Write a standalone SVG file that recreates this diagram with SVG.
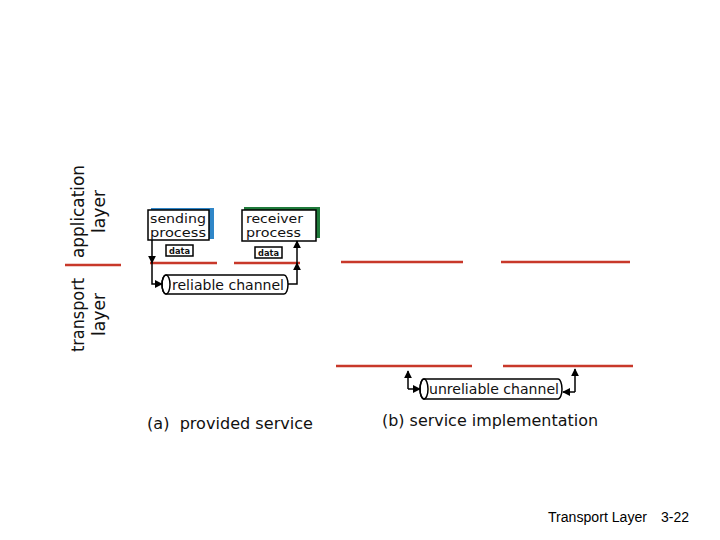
<svg xmlns="http://www.w3.org/2000/svg" width="720" height="540" viewBox="0 0 720 540">
<defs>
<style>
.t{font-family:"DejaVu Sans","Liberation Sans",sans-serif;fill:#111;}
.red{stroke:#c8382a;stroke-width:2.5;fill:none;}
.ln{stroke:#000;stroke-width:1.5;fill:none;}
.box{fill:#fff;stroke:#000;stroke-width:1.5;}
</style>
<marker id="ah" viewBox="0 0 10 10" refX="9" refY="5" markerWidth="8" markerHeight="8" markerUnits="userSpaceOnUse" orient="auto"><path d="M0,0 L10,5 L0,10 z" fill="#000"/></marker>
</defs>
<rect width="720" height="540" fill="#fff"/>
<g id="layer-labels">
<text class="t" font-size="18" transform="translate(84,258) rotate(-90)" textLength="93" lengthAdjust="spacingAndGlyphs">application</text>
<text class="t" font-size="18" transform="translate(105,233) rotate(-90)" textLength="43" lengthAdjust="spacingAndGlyphs">layer</text>
<text class="t" font-size="18" transform="translate(84,352) rotate(-90)" textLength="74" lengthAdjust="spacingAndGlyphs">transport</text>
<text class="t" font-size="18" transform="translate(105,336) rotate(-90)" textLength="43" lengthAdjust="spacingAndGlyphs">layer</text>
<line class="red" x1="65" y1="265" x2="121" y2="265"/>
</g>
<g id="red-lines">
<line class="red" x1="150" y1="263" x2="217" y2="263"/>
<line class="red" x1="234" y1="263" x2="300" y2="263"/>
<line class="red" x1="341" y1="262" x2="463" y2="262"/>
<line class="red" x1="501" y1="262" x2="630" y2="262"/>
<line class="red" x1="336" y1="366" x2="472" y2="366"/>
<line class="red" x1="503" y1="366" x2="633" y2="366"/>
</g>
<g id="sending-process">
<rect x="151" y="208" width="63" height="31" fill="#2f86c8"/>
<rect class="box" x="148" y="210" width="61" height="30"/>
<text class="t" font-size="12.5" x="150" y="223" textLength="56" lengthAdjust="spacingAndGlyphs">sending</text>
<text class="t" font-size="12.5" x="150" y="237" textLength="56" lengthAdjust="spacingAndGlyphs">process</text>
</g>
<g id="receiver-process">
<rect x="244" y="207" width="76" height="31" fill="#1f7a3a"/>
<rect class="box" x="242" y="210" width="74" height="31"/>
<text class="t" font-size="12.5" x="246" y="223" textLength="57" lengthAdjust="spacingAndGlyphs">receiver</text>
<text class="t" font-size="12.5" x="246" y="237" textLength="55" lengthAdjust="spacingAndGlyphs">process</text>
</g>
<g id="data-send">
<rect class="box" x="166" y="245" width="27" height="11"/>
<text class="t" font-size="9" font-weight="bold" x="169" y="254" textLength="21" lengthAdjust="spacingAndGlyphs">data</text>
</g>
<g id="data-recv">
<rect class="box" x="255" y="247" width="27" height="11"/>
<text class="t" font-size="9" font-weight="bold" x="258" y="256" textLength="21" lengthAdjust="spacingAndGlyphs">data</text>
</g>
<g id="reliable-channel">
<path class="box" d="M166,275 H284 A4,9.5 0 0 1 284,294 H166 A4,9.5 0 0 1 166,275 Z"/>
<ellipse cx="166" cy="284.5" rx="4" ry="9.5" fill="none" stroke="#000" stroke-width="1.5"/>
<text class="t" font-size="14" x="172" y="290" textLength="112" lengthAdjust="spacingAndGlyphs">reliable channel</text>
</g>
<g id="unreliable-channel">
<path class="box" d="M424,379 H558 A4,10 0 0 1 558,399 H424 A4,10 0 0 1 424,379 Z"/>
<ellipse cx="424" cy="389" rx="4" ry="10" fill="none" stroke="#000" stroke-width="1.5"/>
<text class="t" font-size="14.5" x="429" y="394" textLength="130" lengthAdjust="spacingAndGlyphs">unreliable channel</text>
</g>
<g id="connectors">
<line class="ln" x1="152" y1="240" x2="152" y2="263" marker-end="url(#ah)"/>
<polyline class="ln" points="152,263 152,284 162,284" marker-end="url(#ah)"/>
<polyline class="ln" points="288,284 297,284 297,263" marker-end="url(#ah)"/>
<line class="ln" x1="297" y1="263" x2="297" y2="241" marker-end="url(#ah)"/>
<line class="ln" x1="408" y1="389" x2="408" y2="371" marker-end="url(#ah)"/>
<line class="ln" x1="408" y1="389" x2="420" y2="389" marker-end="url(#ah)"/>
<line class="ln" x1="575" y1="392" x2="563" y2="392" marker-end="url(#ah)"/>
<line class="ln" x1="575" y1="392" x2="575" y2="369" marker-end="url(#ah)"/>
</g>
<g id="captions">
<text class="t" font-size="15" x="147" y="429" textLength="166" lengthAdjust="spacingAndGlyphs" xml:space="preserve">(a)  provided service</text>
<text class="t" font-size="15" x="382" y="426" textLength="216" lengthAdjust="spacingAndGlyphs">(b) service implementation</text>
<text font-family="Liberation Sans, Arial, sans-serif" font-size="14" fill="#000" x="548" y="522" textLength="99" lengthAdjust="spacingAndGlyphs">Transport Layer</text>
<text font-family="Liberation Sans, Arial, sans-serif" font-size="14" fill="#000" x="661" y="522">3-22</text>
</g>
</svg>
